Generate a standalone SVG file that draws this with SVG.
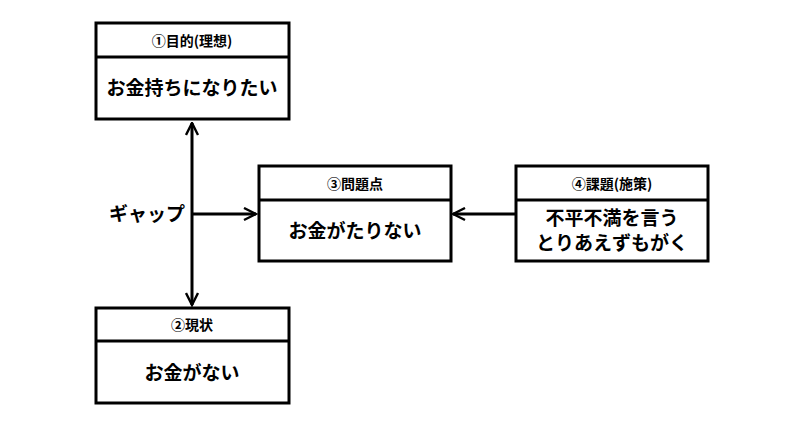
<svg xmlns="http://www.w3.org/2000/svg" width="800" height="431" viewBox="0 0 800 431">
<defs>
<style>
.box{fill:#fff;stroke:#000;stroke-width:3}
.ln{stroke:#000;stroke-width:3;fill:none}
.h{font-family:"Noto Sans CJK JP",sans-serif;font-weight:bold;font-size:14px;text-anchor:middle}
.b{font-family:"Noto Sans CJK JP",sans-serif;font-weight:bold;font-size:19px;text-anchor:middle}
</style>
<marker id="ah" viewBox="0 0 10 10" refX="9" refY="5" markerWidth="5" markerHeight="5" markerUnits="strokeWidth" orient="auto-start-reverse">
<path d="M1,1 L9,5 L1,9" fill="none" stroke="#000" stroke-width="1.6"/>
</marker>
</defs>
<rect width="800" height="431" fill="#fff"/>
<g id="connectors">
<line class="ln" x1="192" y1="123" x2="192" y2="305" marker-start="url(#ah)" marker-end="url(#ah)"/>
<line class="ln" x1="192" y1="214" x2="256" y2="214" marker-end="url(#ah)"/>
<line class="ln" x1="516" y1="214" x2="453" y2="214" marker-end="url(#ah)"/>
<text x="147" y="221" class="b" font-size="18">ギャップ</text>
</g>
<g id="n1">
<rect class="box" x="96" y="23" width="193" height="96"/>
<line class="ln" x1="96" y1="57" x2="289" y2="57"/>
<text class="h" x="192" y="46">①目的(理想)</text>
<text class="b" x="192" y="95">お金持ちになりたい</text>
</g>
<g id="n2">
<rect class="box" x="96" y="308" width="193" height="95"/>
<line class="ln" x1="96" y1="341" x2="289" y2="341"/>
<text class="h" x="192" y="330">②現状</text>
<text class="b" x="192" y="380">お金がない</text>
</g>
<g id="n3">
<rect class="box" x="259" y="166" width="192" height="95"/>
<line class="ln" x1="259" y1="200" x2="451" y2="200"/>
<text class="h" x="355" y="189">③問題点</text>
<text class="b" x="355" y="238">お金がたりない</text>
</g>
<g id="n4">
<rect class="box" x="516" y="166" width="192" height="95"/>
<line class="ln" x1="516" y1="200" x2="708" y2="200"/>
<text class="h" x="612" y="189">④課題(施策)</text>
<text class="b" x="612" y="225" font-size="15">不平不満を言う</text>
<text class="b" x="612" y="250" font-size="15">とりあえずもがく</text>
</g>
</svg>
